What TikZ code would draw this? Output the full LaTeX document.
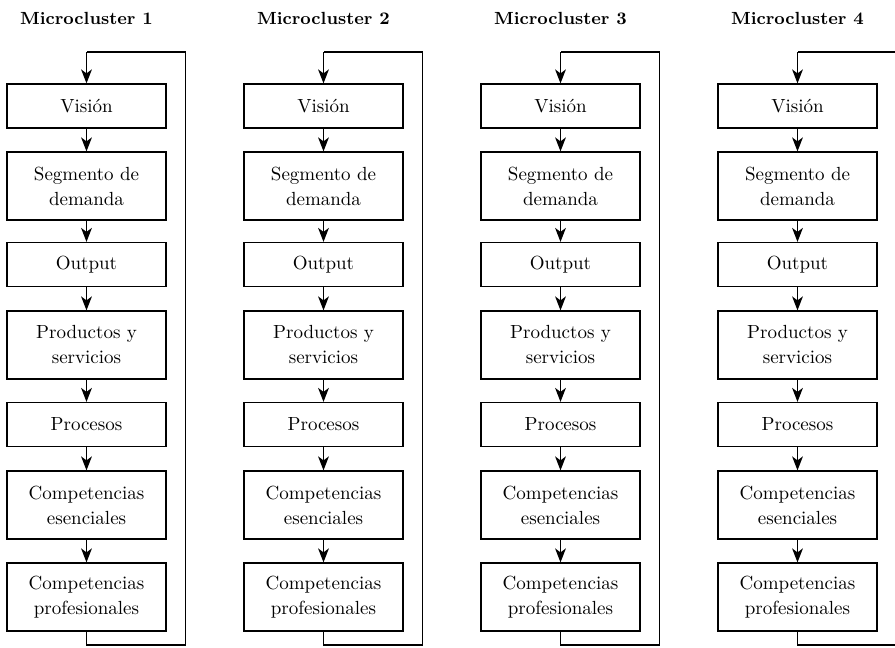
\documentclass[tikz,border=0pt]{standalone}
\usetikzlibrary{arrows.meta}
\begin{document}
\begin{tikzpicture}[x=0.5pt,y=-0.5pt,
  box/.style={draw,line width=0.6pt,minimum width=79.5pt,align=center,
    inner sep=0pt,font=\fontsize{9.5}{12.5}\selectfont},
  one/.style={box,minimum height=22pt},
  two/.style={box,minimum height=34pt},
  title/.style={font=\fontsize{8.8}{10}\selectfont\bfseries},
  arr/.style={line width=0.6pt,-{Stealth[length=7pt,width=5.4pt,inset=2pt]}},
  loop/.style={line width=0.6pt}]
\useasboundingbox (0,0) rectangle (895,648);
\clip (0,0) rectangle (895,648);
\foreach \i/\n in {0/1,1/2,2/3,3/4}{
  \begin{scope}[xshift={\i*118.5pt}]
  \node[title] (t\n) at (86.5,18) {Microcluster \n};
  \node[one] (a\n) at (86.5,106) {Visión};
  \node[two] (b\n) at (86.5,186) {Segmento de\\demanda};
  \node[one] (c\n) at (86.5,264.5) {Output};
  \node[two] (d\n) at (86.5,345) {Productos y\\servicios};
  \node[one] (e\n) at (86.5,424.5) {Procesos};
  \node[two] (f\n) at (86.5,505) {Competencias\\esenciales};
  \node[two] (g\n) at (86.5,597) {Competencias\\profesionales};
  \coordinate (p\n) at (86.5,645);
  \coordinate (q\n) at (185.5,645);
  \coordinate (r\n) at (185.5,52);
  \coordinate (s\n) at (86.5,52);
  \draw[arr] (a\n) -- (b\n);
  \draw[arr] (b\n) -- (c\n);
  \draw[arr] (c\n) -- (d\n);
  \draw[arr] (d\n) -- (e\n);
  \draw[arr] (e\n) -- (f\n);
  \draw[arr] (f\n) -- (g\n);
  \draw[loop] (g\n.south) -- (p\n) -- (q\n) -- (r\n) -- (s\n);
  \draw[arr] (s\n) -- (a\n.north);
  \end{scope}
}
\end{tikzpicture}
\end{document}
